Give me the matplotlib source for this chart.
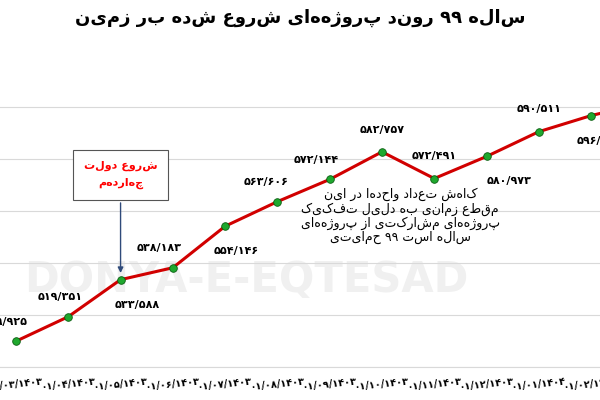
import matplotlib.pyplot as plt

plt.rcParams['font.family'] = ['DejaVu Sans']


def fa(s):
    # matplotlib has no RTL support: reverse words for visual order
    return s[::-1]


# داده‌ها
dates = ['۰۱/۰۳/۱۴۰۳', '۰۱/۰۴/۱۴۰۳', '۰۱/۰۵/۱۴۰۳', '۰۱/۰۶/۱۴۰۳', '۰۱/۰۷/۱۴۰۳',
         '۰۱/۰۸/۱۴۰۳', '۰۱/۰۹/۱۴۰۳', '۰۱/۱۰/۱۴۰۳', '۰۱/۱۱/۱۴۰۳', '۰۱/۱۲/۱۴۰۳',
         '۰۱/۰۱/۱۴۰۴', '۰۱/۰۲/۱۴۰۴', '۰۱/۰۳/۱۴۰۴']
values = [509.925, 519.351, 533.588, 538.183, 554.146, 563.606, 572.144,
          582.757, 572.491, 580.973, 590.511, 596.7, 601.5]
labels = ['۵۰۹/۹۲۵', '۵۱۹/۳۵۱', '۵۳۳/۵۸۸', '۵۳۸/۱۸۳', '۵۵۴/۱۴۶', '۵۶۳/۶۰۶',
          '۵۷۲/۱۴۴', '۵۸۲/۷۵۷', '۵۷۲/۴۹۱', '۵۸۰/۹۷۳', '۵۹۰/۵۱۱', '۵۹۶/۷۰۰', '']
offsets = [(-8, 14), (-6, 14), (12, -18), (-10, 14), (8, -18), (-8, 14),
           (-10, 14), (0, 16), (0, 16), (16, -18), (0, 16), (6, -18), (0, 0)]

fig = plt.figure(figsize=(6, 4), dpi=100)
ax = fig.add_axes([0, 0.0825, 1, 0.78])
x = list(range(len(values)))

# watermark
ax.text(0.41, 0.28, 'DONYA-E-EQTESAD', fontsize=30, fontweight='bold',
        color='#f0f0f0', ha='center', va='center', zorder=0, transform=ax.transAxes)

ax.plot(x, values, color='#d10000', lw=2.2, zorder=3)
ax.scatter(x, values, s=30, color='#1fa82e', edgecolor='#0b5e12', lw=0.6, zorder=4)
for i, (v, t) in enumerate(zip(values, labels)):
    ax.annotate(t, (i, v), xytext=offsets[i], textcoords='offset points',
                ha='center', va='center', fontsize=8, fontweight='bold', zorder=5)

ax.set_yticks([500, 520, 540, 560, 580, 600])
ax.grid(axis='y', color='#d9d9d9', lw=0.8)
ax.set_axisbelow(True)
ax.tick_params(left=False, labelleft=False, bottom=False)
ax.set_xticks(x)
ax.set_xticklabels(dates, fontsize=7, fontweight='bold', rotation=6)
ax.set_xlim(-0.306, 11.17)
ax.set_ylim(500, 620)
for s in ['top', 'right', 'left']:
    ax.spines[s].set_visible(False)
ax.spines['bottom'].set_color('#d9d9d9')

fig.text(0.5, 0.955, fa('روند پروژه‌های شروع شده بر زمین') + ' ۹۹ ' + fa('ساله'),
         ha='center', va='center', fontsize=13, fontweight='bold')

# annotation box
ax.annotate(fa('شروع دولت') + '\n' + fa('چهاردهم'), xy=(2, values[2] + 1.5), xytext=(2, 574),
            textcoords='data', ha='center', va='center', color='red', fontsize=8,
            fontweight='bold', linespacing=1.8, zorder=6,
            bbox=dict(boxstyle='square,pad=1.0', fc='white', ec='#555555', lw=0.8),
            arrowprops=dict(arrowstyle='-|>', color='#2f4a7a', lw=1))

note = '\n'.join([fa('کاهش تعداد واحدها در این'), fa('مقطع زمانی به دلیل تفکیک'),
                  fa('پروژه‌های مشارکتی از پروژه‌های'), fa('حمایتی') + ' ۹۹ ' + fa('ساله است')])
ax.text(7.35, 558, note, ha='center', va='center', fontsize=9, linespacing=1.1, zorder=5)

fig.savefig('out.png', dpi=100)
